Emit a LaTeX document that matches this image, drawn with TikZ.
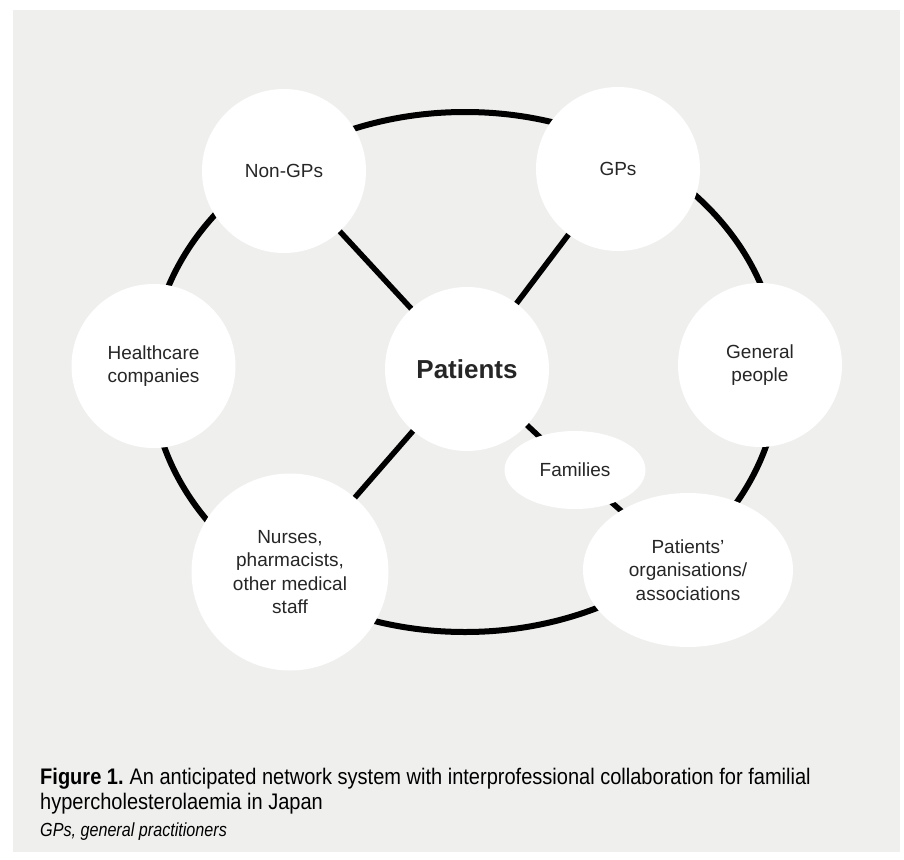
\documentclass[tikz,border=0pt]{standalone}
\usepackage{fontspec}
\setmainfont{Liberation Sans}
\newfontfamily\capfont[FakeStretch=0.89]{Liberation Sans}
\newfontfamily\notefont[FakeStretch=0.85]{Liberation Sans}
\usetikzlibrary{shapes.geometric}
\pgfdeclarelayer{bg}
\pgfdeclarelayer{lines}
\pgfsetlayers{bg,lines,main}
\definecolor{panel}{HTML}{EFEFEE}
\definecolor{ink}{HTML}{262626}
\begin{document}
\begin{tikzpicture}[x=1pt,y=-1pt,
  actor/.style={circle, fill=white, inner sep=0pt, minimum size=164pt, align=center,
    text=ink, font=\fontsize{19}{23.5}\selectfont},
  oval/.style={ellipse, fill=white, inner sep=0pt, align=center,
    text=ink, font=\fontsize{19}{23.5}\selectfont},
  link/.style={line width=5.5pt, black},
  ring/.style={line width=6pt, black},
  captext/.style={anchor=base west, inner sep=0pt, text=black}]
\useasboundingbox (0,0) rectangle (904,859);
\begin{pgfonlayer}{bg}
  \fill[white] (0,0) rectangle (904,859);
  \fill[panel] (13,10) rectangle (900,852);
\end{pgfonlayer}

\node[actor] (nongp) at (284,171) {Non-GPs};
\node[actor] (gp) at (618,169) {GPs};
\node[actor] (hc) at (153.5,366) {Healthcare\\companies};
\node[actor, font=\fontsize{26}{30}\selectfont\bfseries] (pat) at (467,369) {Patients};
\node[actor] (gen) at (760,365) {General\\people};
\node[actor, minimum size=197pt] (nur) at (290,572) {Nurses,\\pharmacists,\\other medical\\staff};
\node[oval, minimum width=141pt, minimum height=78pt] (fam) at (575,470) {Families};
\node[oval, minimum width=210pt, minimum height=154pt] (org) at (688,570) {Patients’\\organisations/\\associations};

\begin{pgfonlayer}{lines}
  \coordinate (ringc) at (465,372);
  \draw[ring] (ringc) ellipse [x radius=314pt, y radius=260pt];
  \draw[link] (nongp.center) -- (pat.center);
  \draw[link] (gp.center) -- (pat.center);
  \draw[link] (nur.center) -- (pat.center);
  \draw[link] (pat.center) -- (fam.center);
  \draw[link] (fam.center) -- (org.center);
\end{pgfonlayer}

\node[captext, font=\capfont\fontsize{22.5}{26}\selectfont] (cap1) at (40,784)
  {\textbf{Figure 1.}\hspace{-1.5pt} An anticipated network system with interprofessional collaboration for familial};
\node[captext, font=\capfont\fontsize{22.5}{26}\selectfont] (cap2) at (40,809)
  {hypercholesterolaemia in Japan};
\node[captext, font=\notefont\fontsize{19}{23}\selectfont\itshape] (cap3) at (40,836)
  {GPs, general practitioners};
\end{tikzpicture}
\end{document}
